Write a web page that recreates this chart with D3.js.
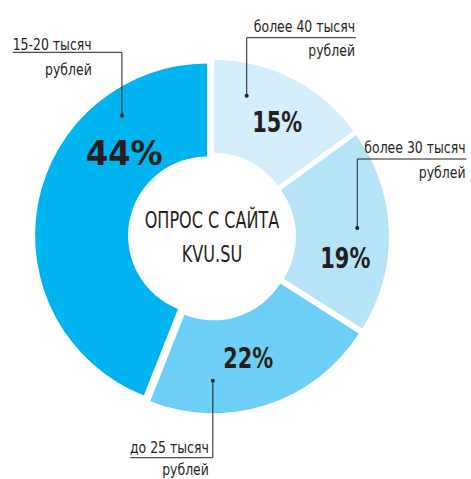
<!DOCTYPE html>
<html>
<head>
<meta charset="utf-8">
<script src="https://cdn.jsdelivr.net/npm/d3@7"></script>
<style>
  body { margin: 0; background: #fff; }
  svg { display: block; }
  text { font-family: "DejaVu Sans Condensed", "Liberation Sans Narrow", "Roboto", sans-serif; fill: #231f20; }
</style>
</head>
<body>
<div id="chart"></div>
<script>
// survey answers, clockwise from 12 o'clock
const categories = ["более 40 тысяч рублей", "более 30 тысяч рублей", "до 25 тысяч рублей", "15-20 тысяч рублей"];
const labelLine1 = ["более 40 тысяч", "более 30 тысяч", "до 25 тысяч", "15-20 тысяч"];
const labelLine2 = ["рублей", "рублей", "рублей", "рублей"];
const shares = [15, 19, 22, 44];
const colors = ["#d4eefb", "#b7e3f8", "#6dcff5", "#00b4ef"];
const centerTitle = ["ОПРОС С САЙТА", "KVU.SU"];

// placement of the percent labels (angle in degrees, radius)
const pctPlace = [[29.7, 127], [99.2, 130], [163.4, 121], [315, 117]];
// callouts: dot polar position, elbow y, far end x, side, first baseline
const callouts = [
    {angle: 13.4, radius: 140, elbowY: 37.7, endX: 356, side: "right", textY: 31.5},
    {angle: 86.6, radius: 140.5, elbowY: 159, endX: 466.5, side: "right", textY: 153},
    {angle: 180.3, radius: 139.4, elbowY: 457.7, endX: 130, side: "left", textY: 453},
    {angle: 324.6, radius: 147, elbowY: 52.3, endX: 12.7, side: "left", textY: 50}
];

const width = 471, height = 479;
const cx = 212, cy = 236.5;
const outerR = 172, innerR = 79, explode = 5;
// the original face is much narrower than anything installed
const squeeze = 0.84, centerSqueeze = 0.76;
const pctSize = [29, 29, 29, 33], pctSqueeze = [0.8, 0.8, 0.8, 1.08];

const svg = d3.select("#chart").append("svg")
    .attr("width", width)
    .attr("height", height);

const pie = d3.pie().sort(null).value(d => d);
const arcs = pie(shares);

const arc = d3.arc().innerRadius(innerR).outerRadius(outerR);

const rad = deg => deg * Math.PI / 180;
// polar -> screen, angle clockwise from top
const polar = (deg, r) => [r * Math.sin(rad(deg)), -r * Math.cos(rad(deg))];

// offset for each exploded slice
const offsets = arcs.map(a => {
    let mid = (a.startAngle + a.endAngle) / 2;
    return [explode * Math.sin(mid), -explode * Math.cos(mid)];
});

const g = svg.append("g").attr("transform", `translate(${cx},${cy})`);

g.selectAll(".slice")
    .data(arcs)
    .enter().append("path")
    .attr("class", "slice")
    .attr("d", arc)
    .attr("fill", (d, i) => colors[i])
    .attr("transform", (d, i) => `translate(${offsets[i][0]},${offsets[i][1]})`);

// percentages
g.selectAll(".pct")
    .data(arcs)
    .enter().append("text")
    .attr("class", "pct")
    .attr("transform", (d, i) => {
        let p = polar(pctPlace[i][0], pctPlace[i][1]);
        return `translate(${offsets[i][0] + p[0]},${offsets[i][1] + p[1]}) scale(${pctSqueeze[i]},1)`;
    })
    .attr("dy", "0.36em")
    .attr("text-anchor", "middle")
    .style("font-weight", "bold")
    .style("font-size", (d, i) => pctSize[i] + "px")
    .text(d => d.data + "%");

// centre caption
g.selectAll(".center")
    .data(centerTitle)
    .enter().append("text")
    .attr("class", "center")
    .attr("transform", (d, i) => `translate(0,${i === 0 ? -8.5 : 25.2}) scale(${centerSqueeze},1)`)
    .attr("text-anchor", "middle")
    .style("font-size", "23.5px")
    .text(d => d);

// callouts
const co = svg.append("g").attr("class", "callouts");

callouts.forEach((c, i) => {
    let p = polar(c.angle, c.radius);
    let dotX = cx + offsets[i][0] + p[0];
    let dotY = cy + offsets[i][1] + p[1];

    co.append("path")
        .attr("d", `M${dotX},${dotY}V${c.elbowY}H${c.endX}`)
        .attr("fill", "none")
        .attr("stroke", "#231f20")
        .attr("stroke-width", 1);

    co.append("circle")
        .attr("cx", dotX)
        .attr("cy", dotY)
        .attr("r", 2)
        .attr("fill", "#231f20");

    let t1 = co.append("text")
        .style("font-size", "16.5px")
        .text(labelLine1[i]);

    let x1, endOfLine1;
    if (c.side === "right") {
        x1 = c.endX - 1;
        t1.attr("text-anchor", "end");
        endOfLine1 = x1;
    } else {
        x1 = c.endX;
        t1.attr("text-anchor", "start");
        endOfLine1 = x1 + t1.node().getComputedTextLength() * squeeze;
    }
    t1.attr("transform", `translate(${x1},${c.textY}) scale(${squeeze},1)`);

    // keep the last line inside the picture
    let y2 = Math.min(c.textY + 24.5, height - 4);
    co.append("text")
        .attr("transform", `translate(${endOfLine1},${y2}) scale(${squeeze},1)`)
        .attr("text-anchor", "end")
        .style("font-size", "16.5px")
        .text(labelLine2[i]);
});
</script>
</body>
</html>
